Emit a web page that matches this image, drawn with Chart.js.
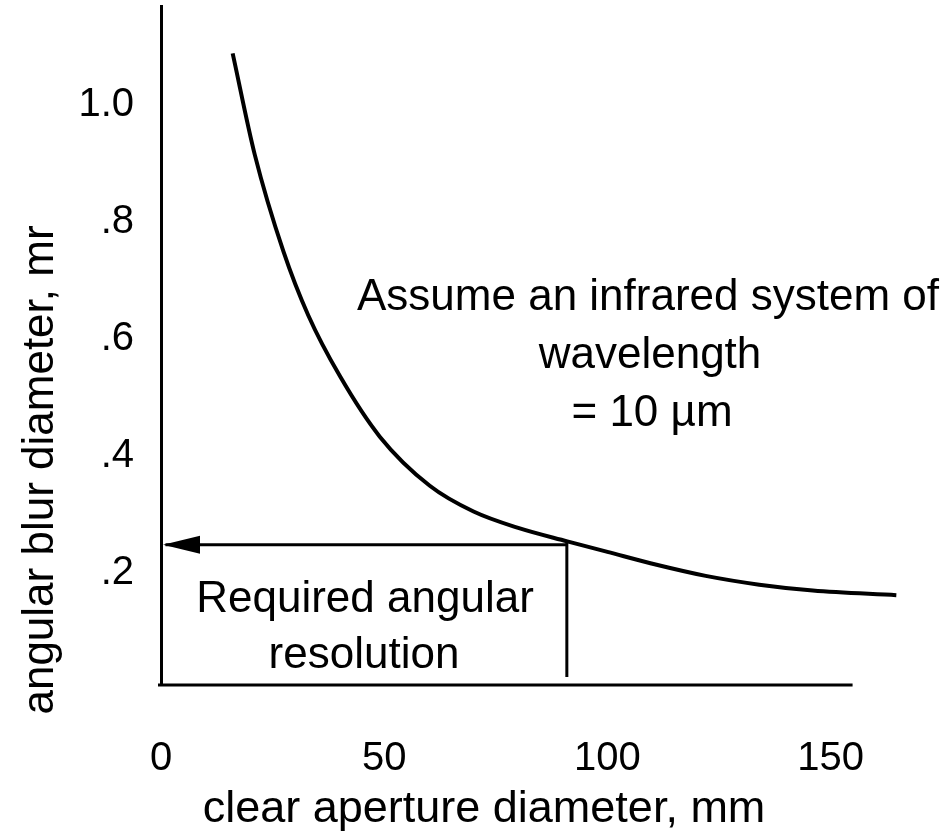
<!DOCTYPE html>
<html>
<head>
<meta charset="utf-8">
<script src="https://cdn.jsdelivr.net/npm/chart.js@4.4.0/dist/chart.umd.min.js"></script>
<style>
    html, body { margin: 0; padding: 0; background: #fff; }
    #wrap { width: 948px; height: 840px; }
</style>
</head>
<body>
<div id="wrap"><canvas id="blurChart" width="948" height="840"></canvas></div>
<script>
// curve (aperture mm -> blur mr)
const apertureMm = [16.05, 21.0, 27.4, 33.0, 40.1, 49.0, 60.2, 70.0, 80.0, 91.0, 100.0, 111.0, 122.0, 134.0, 146.0, 164.7];
const blurMr = [1.088, 0.915, 0.750, 0.640, 0.536, 0.433, 0.349, 0.305, 0.277, 0.254, 0.236, 0.214, 0.195, 0.180, 0.170, 0.162];

const xTicks = [0, 50, 100, 150];
const yTicks = [0.2, 0.4, 0.6, 0.8, 1.0];
const yTickLabels = ['.2', '.4', '.6', '.8', '1.0'];

const requiredAperture = 90.9;
const requiredBlur = 0.248;
const curveAtRequired = 0.254;
const xAxisEnd = 154.9;

const FONT = "'Liberation Sans', Arial, Helvetica, sans-serif";

const notePlugin = {
    id: 'notes',
    afterDatasetsDraw(chart) {
        const ctx = chart.ctx;
        const xs = chart.scales.x;
        const ys = chart.scales.y;
        const area = chart.chartArea;

        ctx.save();
        ctx.strokeStyle = '#000';
        ctx.fillStyle = '#000';

        // x axis line, stops short of the curve end
        ctx.lineWidth = 3;
        ctx.beginPath();
        ctx.moveTo(area.left - 3, area.bottom);
        ctx.lineTo(xs.getPixelForValue(xAxisEnd), area.bottom);
        ctx.stroke();

        // arrow head
        const ax = area.left + 2;
        const ay = ys.getPixelForValue(requiredBlur);
        ctx.beginPath();
        ctx.moveTo(ax, ay);
        ctx.lineTo(ax + 37, ay - 9);
        ctx.lineTo(ax + 37, ay + 9);
        ctx.closePath();
        ctx.fill();

        ctx.textAlign = 'center';
        ctx.textBaseline = 'alphabetic';
        ctx.font = '44px ' + FONT;

        ctx.fillText('Assume an infrared system of', 648, 310);
        ctx.fillText('wavelength', 650, 368);
        ctx.fillText('= 10 \u00b5m', 652, 426);

        ctx.fillText('Required angular', 365, 612);
        ctx.fillText('resolution', 364, 668);

        // axis titles
        ctx.font = '45px ' + FONT;
        ctx.fillText('clear aperture diameter, mm', 484, 822);

        ctx.font = '44px ' + FONT;
        ctx.translate(53, 470);
        ctx.rotate(-Math.PI / 2);
        ctx.fillText('angular blur diameter, mr', 0, 0);

        ctx.restore();
    }
};

const ctx = document.getElementById('blurChart');

new Chart(ctx, {
    type: 'line',
    data: {
        datasets: [{
            label: 'blur',
            data: apertureMm.map((x, i) => ({ x: x, y: blurMr[i] })),
            borderColor: '#000',
            borderWidth: 4,
            pointRadius: 0,
            fill: false,
            cubicInterpolationMode: 'monotone'
        }, {
            label: 'required',
            data: [{ x: requiredAperture, y: requiredBlur }, { x: 1, y: requiredBlur }],
            borderColor: '#000',
            borderWidth: 3,
            pointRadius: 0,
            fill: false
        }, {
            label: 'drop',
            data: [{ x: requiredAperture, y: curveAtRequired }, { x: requiredAperture, y: 0.022 }],
            borderColor: '#000',
            borderWidth: 3,
            pointRadius: 0,
            fill: false
        }]
    },
    options: {
        responsive: false,
        animation: false,
        devicePixelRatio: 1,
        layout: {
            padding: { top: 6, right: 28, left: 0, bottom: 0 }
        },
        plugins: {
            legend: { display: false },
            tooltip: { enabled: false }
        },
        scales: {
            x: {
                type: 'linear',
                min: 0,
                max: 170,
                afterBuildTicks: s => { s.ticks = xTicks.map(v => ({ value: v })); },
                afterFit: s => {
                    s.height = 155;
                    s.paddingLeft = 0;
                    s.paddingRight = 0;
                },
                grid: { display: false, drawTicks: false },
                border: { display: false },
                ticks: {
                    color: '#000',
                    font: { family: FONT, size: 40 },
                    padding: 50,
                    maxRotation: 0,
                    autoSkip: false
                }
            },
            y: {
                type: 'linear',
                min: 0.0085,
                max: 1.169,
                afterBuildTicks: s => { s.ticks = yTicks.map(v => ({ value: v })); },
                afterFit: s => {
                    s.width = 161;
                    s.paddingTop = 0;
                    s.paddingBottom = 0;
                },
                grid: { display: false, drawTicks: false },
                border: { display: true, color: '#000', width: 3 },
                ticks: {
                    color: '#000',
                    font: { family: FONT, size: 40 },
                    padding: 27,
                    autoSkip: false,
                    callback: (value, index) => yTickLabels[index]
                }
            }
        }
    },
    plugins: [notePlugin]
});
</script>
</body>
</html>
